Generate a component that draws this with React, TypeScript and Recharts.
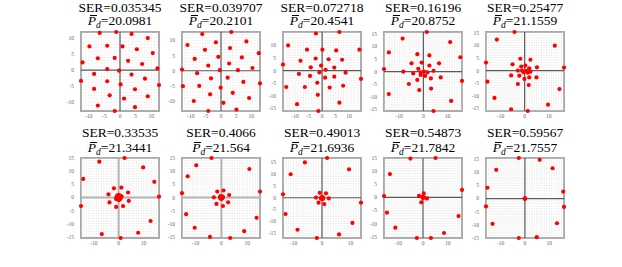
import { ScatterChart, Scatter, XAxis, YAxis, CartesianGrid, ReferenceLine } from 'recharts';

type Pt = [number, number];

// titles of the ten panels
const serValues = ['0.035345', '0.039707', '0.072718', '0.16196', '0.25477', '0.33535', '0.4066', '0.49013', '0.54873', '0.59567'];
const pdValues = ['20.0981', '20.2101', '20.4541', '20.8752', '21.1559', '21.3441', '21.564', '21.6936', '21.7842', '21.7557'];

// constellation points
const panel1: Pt[] = [
  [-6.5, 11.6], [-1.2, 11.9], [3.7, 11.3], [8.9, 10], [-9.8, 7.4], [-4.1, 7.6], [0.8, 7.4], [5.4, 6.5],
  [10.5, 5.3], [-7.1, 3.7], [-1.7, 3.8], [2.6, 2.9], [7.1, 1.9], [12, 0.5], [-12, 2.4], [-4.1, 0.3],
  [-0.3, -0.2], [-8.3, -1.2], [3.7, -1.4], [8, -2.7], [-12.5, -3.4], [-4.1, -3.5], [0.2, -4.5], [12.5, -4.7],
  [-8.3, -5.9], [4.8, -6], [-3.3, -7.9], [1.3, -8.9], [8.9, -8.2], [-7.1, -11.1], [-1.7, -12.8], [4.8, -11.6],
];
const panel2: Pt[] = [
  [-6.2, 12.1], [3.4, 12.8], [-11.1, 8.5], [-1.7, 9.4], [8.4, 9.7], [-5.3, 6.9], [3, 7.5], [12.5, 5.8],
  [-8.7, 3.9], [-0.9, 4.6], [6.9, 4.4], [2.7, 2.4], [-4.2, 1.7], [10.4, 0.9], [-12.9, 0.4], [-0.4, 0.2],
  [5.6, 0.2], [-7.9, -0.8], [-3.3, -2.5], [2.2, -2.3], [7.4, -3.7], [12.9, -4.2], [-12.6, -5.1], [-7.2, -5],
  [-0.1, -5.6], [-3.6, -7.8], [3.9, -7.3], [9.3, -9], [-9, -10], [0.8, -10.6], [5.1, -12.8], [-4.2, -13.3],
];
const panel3: Pt[] = [
  [-2.3, 14.7], [6.4, 15.3], [-5.6, 8.3], [0.1, 8.3], [5.2, 8], [13.8, 8.3], [-8, 3.9], [-2.4, 4.8],
  [2.4, 4.5], [7.4, 4.3], [-4.2, 1.3], [-0.4, 2], [1.3, 0.3], [4.5, 1.2], [-8.6, -1.3], [-1, -0.7],
  [8.7, -0.8], [-4.5, -2.1], [1.1, -2.8], [4.5, -2.4], [14.4, -3.3], [-1.8, -4.8], [-6.4, -6.5], [2.8, -6.7],
  [7.8, -6], [-1.6, -9.6], [-9.3, -13.3], [6.4, -12.7], [-1.4, -16], [-12.6, 10], [-14.5, 2.4], [-13.3, -6.5],
];
const panel4: Pt[] = [
  [1.4, 15.7], [-8.6, 13.1], [11.1, 11.7], [-2.5, 6.9], [2.5, 6.4], [15.3, 5.7], [-4.9, 3.3], [-0.7, 3.6],
  [6.5, 3.3], [2.5, 2.4], [-2.1, 1.1], [-8.3, 0], [-4.2, -0.7], [-1.1, -0.3], [0.3, 0], [1.7, -0.3],
  [4.2, 0.3], [-1.1, -1.3], [0.7, -1.7], [-2.5, -3.3], [3.1, -2.7], [-6, -4.9], [7.2, -2.3], [16, -3.7],
  [-1.7, -7.3], [3.2, -6.7], [11.5, -11.6], [4.2, -15.6], [-14.3, 7.6], [-16.3, 1], [-14.3, -8.9],
];
const panel5: Pt[] = [
  [-4.2, 15.3], [12.5, 9.9], [-1.8, 4.7], [2.4, 4.3], [-5, 2.5], [-1.4, 1.6], [0.3, 2], [1.9, 0.9],
  [5.1, 1.3], [-2.8, 0], [-1.1, 0], [-0.4, -0.7], [0.6, -0.1], [1.3, -0.8], [2.4, -0.4], [-5.6, -1.9],
  [-2.2, -2], [1.9, -2.7], [4.9, -2.7], [-0.1, -3.3], [-2.8, -5.3], [1.7, -5.7], [16.3, 1.2], [14.4, -7.3],
  [9.7, -13.5], [-5.6, -15.3], [1.3, -16], [-16, 3.2], [-15.4, -4.4], [-11.5, 12.3], [-12.5, -10.8],
];
const panel6: Pt[] = [
  [2.4, 15.1], [-7.8, 13.7], [9.9, 11.5], [-14.3, 7.1], [14.4, 6], [16.3, 0.3], [-15.2, -3.3], [12.9, -9],
  [-6.8, -14], [7.9, -13.5], [0.8, -15.5], [1.1, 3.8], [-1.9, 3.5], [3.8, 1.9], [-4.1, 1.2], [4.1, -1.3],
  [-3.7, -1.9], [-1, -3.6], [1.8, -3.3], [0.9, 0], [0.6, 0.7], [0, 1], [-0.6, 0.7], [-0.9, 0],
  [-0.6, -0.7], [0, -1], [0.6, -0.7], [0.4, 0.2], [-0.3, 0.3], [0, -0.4], [1.2, 0.4], [-1.1, -0.5],
];
const panel7: Pt[] = [
  [-3.8, 15.1], [-9.7, 12.3], [10.8, 10.9], [-13, 8.1], [-15.2, 1.7], [14.9, 2.3], [-13.6, -6.3], [13.6, -7.7],
  [-10.3, -11.5], [-4.4, -15], [8.8, -12.8], [3.4, -15.4], [-1.6, 2.3], [0.8, 2.7], [3, 1], [-2.9, 0.1],
  [-1.9, -2.4], [2.6, -1.8], [0.6, -3.2], [0.5, 0], [0.35, 0.35], [0, 0.5], [-0.35, 0.35], [-0.5, 0],
  [-0.35, -0.35], [0, -0.5], [0.35, -0.35], [0, 0], [0.2, 0.1], [-0.1, -0.2], [0.6, 0.3], [-0.4, 0.5],
];
const panel8: Pt[] = [
  [1.8, 16.9], [-6, 15], [-11, 10], [9.5, 12.1], [-13.7, 1.5], [-12.8, -6.9], [13.7, -2.1], [10.7, -10.7],
  [-8.6, -13.6], [6, -15.6], [-1.8, -17.1], [-0.8, 2.1], [1.4, 1.9], [-2.1, 0.1], [2.4, -0.3], [-1.2, -2.1],
  [0.8, -2.7], [0.3, 0], [0.2, 0.2], [0, 0.3], [-0.2, 0.2], [-0.3, 0], [-0.2, -0.2], [0, -0.3],
  [0.2, -0.2], [0, 0], [0.1, 0.1], [-0.1, 0], [0.4, -0.4], [-0.3, -0.4], [0.1, -0.5], [0, 0.1],
];
const panel9: Pt[] = [
  [-5.1, 14.7], [5.1, 14.9], [15.8, 2.8], [14.4, -7.1], [8.5, -13.5], [-2.5, -15.4], [3.2, -15.4], [-13.4, 8.8],
  [-15.8, 0.5], [-14.6, -5.8], [-11.2, -11.5], [-1.6, 0.6], [0.3, 1.5], [1.6, -0.4], [-0.7, -1.9], [0, 0],
  [0.2, 0.1], [-0.2, -0.1], [0.1, -0.2], [-0.1, 0.2], [0.3, -0.1],
];
const panel10: Pt[] = [
  [-2.5, 15.4], [6.1, 14.7], [11.4, 11.5], [15.8, 2.6], [16.1, -3.2], [13.2, -9.4], [-2.5, -15], [4.9, -14.7],
  [-11.8, 10.9], [-15.4, 4.1], [-16, -3], [-13.3, -9.6], [0, 0], [0.1, 0.1], [-0.1, 0], [0, -0.1],
];

const panels = [panel1, panel2, panel3, panel4, panel5, panel6, panel7, panel8, panel9, panel10];

const ticksFine = [-10, -5, 0, 5, 10];
const ticksCoarse = [-10, 0, 10];
const ticksWide = [-15, -10, -5, 0, 5, 10, 15];
const ticksWideNoTop = [-15, -10, -5, 0, 5, 10];

const xTickSets = [ticksFine, ticksFine, ticksFine, ticksCoarse, ticksCoarse, ticksCoarse, ticksCoarse, ticksCoarse, ticksCoarse, ticksCoarse];
const yTickSets = [ticksFine, ticksFine, ticksWideNoTop, ticksWide, ticksWide, ticksWide, ticksWide, ticksWide, ticksWide, ticksWide];

const COL_LEFT = [81, 182, 283, 384, 486];
const ROW_TOP = [32, 158];
const ROW_H = [79, 80];
const BOX_W = 78;
const YW = 22;
const XH = 12;
const MT = 4;
const MR = 4;
const SERIF = '"Liberation Serif", "Times New Roman", serif';

const intsBetween = (lo: number, hi: number) => {
  const out: number[] = [];
  for (let v = Math.ceil(lo); v <= Math.floor(hi); v++) out.push(v);
  return out;
};

function Panel({ idx }: { idx: number }) {
  const row = Math.floor(idx / 5);
  const col = idx % 5;
  const left = COL_LEFT[col];
  const top = ROW_TOP[row];
  const h = ROW_H[row];
  const pts = panels[idx].map(([x, y]) => ({ x, y }));
  const xs = pts.map((p) => p.x);
  const ys = pts.map((p) => p.y);
  const xDom: [number, number] = [Math.min(...xs), Math.max(...xs)];
  const yDom: [number, number] = [Math.min(...ys), Math.max(...ys)];
  const xTicks = xTickSets[idx].filter((t) => t >= xDom[0] - 0.6 && t <= xDom[1] + 0.6);
  const yTicks = yTickSets[idx].filter((t) => t >= yDom[0] - 0.6 && t <= yDom[1] + 0.6);
  const lightAxes = idx === 5 || idx === 6;
  const axisColor = lightAxes ? '#b3b3b3' : '#5a5a5a';
  const axisWidth = lightAxes ? 2 : 1.2;
  const tickStyle = { fontSize: 5.5, fill: '#666', fontFamily: SERIF };

  return (
    <>
      <div
        style={{
          position: 'absolute',
          left: left - 1,
          top: top - 1,
          width: BOX_W + 2,
          height: h + 2,
          boxSizing: 'border-box',
          border: '2px solid #aaaaaa',
        }}
      />
      <div style={{ position: 'absolute', left: left - YW, top: top - MT }}>
        <ScatterChart
          width={YW + BOX_W + MR}
          height={MT + h + XH}
          margin={{ top: MT, right: MR, left: 0, bottom: 0 }}
        >
          <CartesianGrid
            stroke="#d9d9d9"
            strokeWidth={0.5}
            strokeDasharray="1 1.5"
            verticalValues={intsBetween(xDom[0], xDom[1])}
            horizontalValues={intsBetween(yDom[0], yDom[1])}
          />
          <XAxis
            type="number"
            dataKey="x"
            domain={xDom}
            ticks={xTicks}
            interval={0}
            tickLine={false}
            axisLine={false}
            tickSize={0}
            tickMargin={3}
            height={XH}
            tick={tickStyle}
          />
          <YAxis
            type="number"
            dataKey="y"
            domain={yDom}
            ticks={yTicks}
            interval={0}
            tickLine={false}
            axisLine={false}
            tickSize={0}
            tickMargin={7}
            width={YW}
            tick={tickStyle}
          />
          <ReferenceLine x={0} stroke={axisColor} strokeWidth={axisWidth} />
          <ReferenceLine y={0} stroke={axisColor} strokeWidth={axisWidth} />
          <Scatter
            data={pts}
            isAnimationActive={false}
            shape={(p: any) => <circle cx={p.cx} cy={p.cy} r={2.1} fill="#ff0000" />}
          />
        </ScatterChart>
      </div>
      <div
        style={{
          position: 'absolute',
          left: left - 20,
          width: BOX_W + 40,
          top: row === 0 ? 0.5 : 125.8,
          textAlign: 'center',
          fontFamily: SERIF,
          fontSize: 13.5,
          lineHeight: '14px',
          whiteSpace: 'nowrap',
        }}
      >
        SER={serValues[idx]}
      </div>
      <div
        style={{
          position: 'absolute',
          left: left - 20,
          width: BOX_W + 40,
          top: row === 0 ? 14.2 : 140.8,
          textAlign: 'center',
          fontFamily: SERIF,
          fontSize: 13.5,
          lineHeight: '14px',
          whiteSpace: 'nowrap',
        }}
      >
        <span style={{ fontStyle: 'italic', position: 'relative', display: 'inline-block' }}>
          P
          <span style={{ position: 'absolute', left: 2, right: -1, top: 1, borderTop: '1px solid #000' }} />
        </span>
        <span style={{ fontStyle: 'italic', fontSize: 9.5, position: 'relative', top: 3 }}>d</span>={pdValues[idx]}
      </div>
    </>
  );
}

export default function App() {
  return (
    <div style={{ position: 'absolute', left: 0, top: 0, width: 622, height: 267, background: '#fff' }}>
      {panels.map((_, i) => (
        <Panel key={i} idx={i} />
      ))}
    </div>
  );
}
